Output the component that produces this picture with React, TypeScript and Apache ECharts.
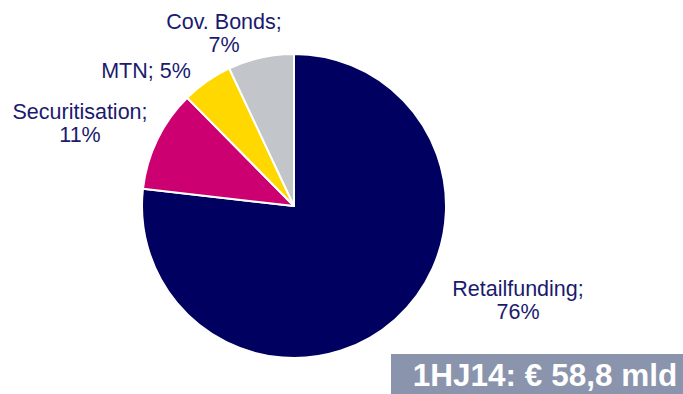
import React, { useEffect, useRef } from "react";
import * as echarts from "echarts";

const categories = ["Retailfunding", "Securitisation", "MTN", "Cov. Bonds"];
const shares = [76.8, 10.8, 5.4, 7.0];
const shareLabels = ["76%", "11%", "5%", "7%"];
const colors = ["#000060", "#CC0070", "#FFD800", "#C2C6CA"];
const totalLabel = "1HJ14: € 58,8 mld";

const labelPos = [
  { x: 518, y: 300 },
  { x: 80, y: 123 },
  { x: 146, y: 71 },
  { x: 224, y: 33 },
];

export default function App() {
  const ref = useRef<HTMLDivElement>(null);
  useEffect(() => {
    const chart = echarts.init(ref.current!, null, { renderer: "svg" });
    chart.setOption({
      animation: false,
      backgroundColor: "#ffffff",
      series: [
        {
          type: "pie",
          center: [294, 206],
          radius: [0, 152],
          startAngle: 90,
          clockwise: true,
          avoidLabelOverlap: false,
          itemStyle: { borderColor: "#ffffff", borderWidth: 2 },
          label: {
            show: true,
            position: "outside",
            color: "#1A1A6E",
            fontFamily: "Liberation Sans",
            fontSize: 21.5,
            lineHeight: 23,
            align: "center",
            formatter: (p: any) =>
              p.name === "MTN"
                ? `${p.name}; ${shareLabels[p.dataIndex]}`
                : `${p.name};\n${shareLabels[p.dataIndex]}`,
          },
          labelLine: { show: false },
          labelLayout: (params: any) => ({
            x: labelPos[params.dataIndex].x,
            y: labelPos[params.dataIndex].y,
            align: "center",
            verticalAlign: "middle",
          }),
          data: categories.map((c, i) => ({
            name: c,
            value: shares[i],
            itemStyle: { color: colors[i] },
          })),
        },
      ],
      graphic: [
        {
          type: "rect",
          shape: { x: 391, y: 354, width: 292, height: 40 },
          style: { fill: "#8A94AC" },
        },
        {
          type: "text",
          x: 545,
          y: 375,
          style: {
            text: totalLabel,
            fill: "#ffffff",
            fontFamily: "Liberation Sans",
            fontWeight: "bold",
            fontSize: 31.5,
            textAlign: "center",
            textVerticalAlign: "middle",
          },
        },
      ],
    });
    return () => chart.dispose();
  }, []);
  return <div ref={ref} style={{ width: 683, height: 394, position: "absolute", left: 0, top: 0 }} />;
}
